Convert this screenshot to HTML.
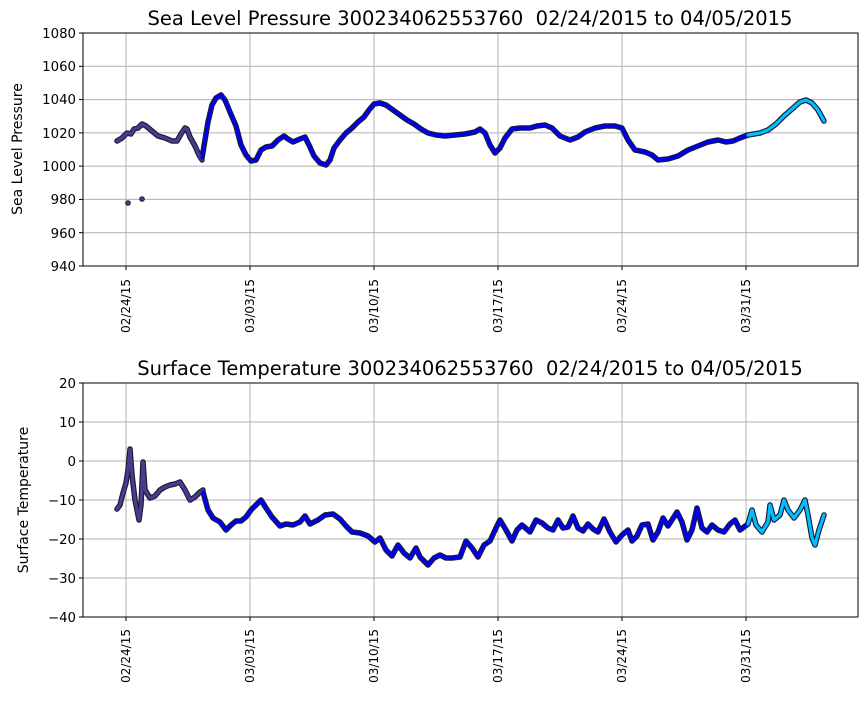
<!DOCTYPE html>
<html><head><meta charset="utf-8"><style>
body{margin:0;background:#fff}
svg text{font-family:"DejaVu Sans","Liberation Sans",sans-serif}
</style></head><body>
<svg width="867" height="700" xmlns="http://www.w3.org/2000/svg">
<rect width="867" height="700" fill="#fff"/>
<g stroke="#b0b0b0" stroke-width="1">
<line x1="83" x2="858" y1="66.3" y2="66.3"/><line x1="83" x2="858" y1="99.6" y2="99.6"/><line x1="83" x2="858" y1="132.9" y2="132.9"/><line x1="83" x2="858" y1="166.1" y2="166.1"/><line x1="83" x2="858" y1="199.4" y2="199.4"/><line x1="83" x2="858" y1="232.7" y2="232.7"/>
<line x1="126" x2="126" y1="33" y2="266"/><line x1="250" x2="250" y1="33" y2="266"/><line x1="374" x2="374" y1="33" y2="266"/><line x1="498" x2="498" y1="33" y2="266"/><line x1="622" x2="622" y1="33" y2="266"/><line x1="746" x2="746" y1="33" y2="266"/>
<line x1="83" x2="858" y1="422" y2="422"/><line x1="83" x2="858" y1="461" y2="461"/><line x1="83" x2="858" y1="500" y2="500"/><line x1="83" x2="858" y1="539" y2="539"/><line x1="83" x2="858" y1="578" y2="578"/>
<line x1="126" x2="126" y1="383" y2="617"/><line x1="250" x2="250" y1="383" y2="617"/><line x1="374" x2="374" y1="383" y2="617"/><line x1="498" x2="498" y1="383" y2="617"/><line x1="622" x2="622" y1="383" y2="617"/><line x1="746" x2="746" y1="383" y2="617"/>
</g>
<g fill="none" stroke-linejoin="round" stroke-linecap="round">
<g stroke="#1a1a3a" stroke-width="5.5">
<polyline points="117,141 122,138 127,133 131,134 134,129 138,128 142,124 146,126 152,131 158,136 165,138 172,141 177,141 181,134 185,128 187,129 190,137 195,146 199,155 202,160"/>
<polyline points="202,158 205,140 208,122 212,105 216,98 221,95 225,100 230,112 236,126 241,145 246,155 251,161 256,160 261,150 266,147 272,146 278,140 284,136 288,139 293,142 300,139 305,137 309,145 314,156 320,163 326,165 330,160 334,148 340,140 346,133 352,128 358,122 364,117 369,110 374,104 380,103 386,105 393,110 400,115 407,120 414,124 421,129 428,133 436,135 445,136 455,135 465,134 475,132 480,129 485,133 490,145 495,153 500,148 505,138 512,129 520,128 530,128 537,126 545,125 552,128 560,136 570,140 578,137 585,132 595,128 605,126 615,126 622,128 628,140 635,150 645,152 652,155 658,160 668,159 678,156 688,150 698,146 708,142 718,140 726,142 733,141 740,138 748,135"/>
<polyline points="748,135 760,133 768,130 776,124 784,116 792,109 800,102 806,100 812,103 818,110 824,121"/>
<polyline points="117,509 120,505 123,493 126,483 128,470 130,449 132,475 135,500 139,520 141,505 143,462 145,490 150,498 155,496 160,490 165,487 170,485 175,484 180,482 185,490 190,500 195,497 200,492 203,490"/>
<polyline points="203,492 208,510 213,518 220,522 226,530 231,525 236,521 241,521 246,517 251,510 256,505 261,500 266,508 272,517 280,526 286,524 293,525 300,522 305,516 310,524 318,520 325,515 333,514 340,519 346,526 352,532 360,533 368,536 375,542 380,538 386,550 392,556 398,545 404,553 410,558 416,548 420,557 428,565 434,558 440,555 446,558 452,558 460,557 466,541 472,548 478,557 484,545 490,541 496,528 500,520 506,530 512,541 517,530 522,525 530,532 536,520 542,523 548,528 553,530 558,520 563,528 568,527 573,516 578,528 583,531 588,524 593,529 598,532 604,519 610,532 616,542 622,535 628,530 632,541 637,536 642,525 648,524 653,540 658,532 663,518 668,526 672,520 677,512 682,522 687,540 692,530 697,508 702,528 707,532 712,525 718,530 724,532 730,524 735,520 740,530 748,524"/>
<polyline points="748,524 752,510 756,525 762,532 768,522 770,505 774,520 780,515 784,500 788,510 794,518 800,510 805,500 808,515 812,538 815,545 819,530 824,515"/>
</g>
<g stroke-width="3.2">
<polyline stroke="#483d8b" points="117,141 122,138 127,133 131,134 134,129 138,128 142,124 146,126 152,131 158,136 165,138 172,141 177,141 181,134 185,128 187,129 190,137 195,146 199,155 202,160"/>
<polyline stroke="#0000ee" points="202,158 205,140 208,122 212,105 216,98 221,95 225,100 230,112 236,126 241,145 246,155 251,161 256,160 261,150 266,147 272,146 278,140 284,136 288,139 293,142 300,139 305,137 309,145 314,156 320,163 326,165 330,160 334,148 340,140 346,133 352,128 358,122 364,117 369,110 374,104 380,103 386,105 393,110 400,115 407,120 414,124 421,129 428,133 436,135 445,136 455,135 465,134 475,132 480,129 485,133 490,145 495,153 500,148 505,138 512,129 520,128 530,128 537,126 545,125 552,128 560,136 570,140 578,137 585,132 595,128 605,126 615,126 622,128 628,140 635,150 645,152 652,155 658,160 668,159 678,156 688,150 698,146 708,142 718,140 726,142 733,141 740,138 748,135"/>
<polyline stroke="#00bfff" points="748,135 760,133 768,130 776,124 784,116 792,109 800,102 806,100 812,103 818,110 824,121"/>
<polyline stroke="#483d8b" points="117,509 120,505 123,493 126,483 128,470 130,449 132,475 135,500 139,520 141,505 143,462 145,490 150,498 155,496 160,490 165,487 170,485 175,484 180,482 185,490 190,500 195,497 200,492 203,490"/>
<polyline stroke="#0000ee" points="203,492 208,510 213,518 220,522 226,530 231,525 236,521 241,521 246,517 251,510 256,505 261,500 266,508 272,517 280,526 286,524 293,525 300,522 305,516 310,524 318,520 325,515 333,514 340,519 346,526 352,532 360,533 368,536 375,542 380,538 386,550 392,556 398,545 404,553 410,558 416,548 420,557 428,565 434,558 440,555 446,558 452,558 460,557 466,541 472,548 478,557 484,545 490,541 496,528 500,520 506,530 512,541 517,530 522,525 530,532 536,520 542,523 548,528 553,530 558,520 563,528 568,527 573,516 578,528 583,531 588,524 593,529 598,532 604,519 610,532 616,542 622,535 628,530 632,541 637,536 642,525 648,524 653,540 658,532 663,518 668,526 672,520 677,512 682,522 687,540 692,530 697,508 702,528 707,532 712,525 718,530 724,532 730,524 735,520 740,530 748,524"/>
<polyline stroke="#00bfff" points="748,524 752,510 756,525 762,532 768,522 770,505 774,520 780,515 784,500 788,510 794,518 800,510 805,500 808,515 812,538 815,545 819,530 824,515"/>
</g>
</g>
<circle cx="128" cy="203" r="2.3" fill="#483d8b" stroke="#1a1a3a"/><circle cx="142" cy="199" r="2.3" fill="#483d8b" stroke="#1a1a3a"/>
<g fill="none" stroke="#000" stroke-width="1"><rect x="83" y="33" width="775" height="233"/><rect x="83" y="383" width="775" height="234"/></g>
<g stroke="#000">
<line x1="79" x2="83" y1="33" y2="33"/><line x1="79" x2="83" y1="66.3" y2="66.3"/><line x1="79" x2="83" y1="99.6" y2="99.6"/><line x1="79" x2="83" y1="132.9" y2="132.9"/><line x1="79" x2="83" y1="166.1" y2="166.1"/><line x1="79" x2="83" y1="199.4" y2="199.4"/><line x1="79" x2="83" y1="232.7" y2="232.7"/><line x1="79" x2="83" y1="266" y2="266"/>
<line x1="79" x2="83" y1="383" y2="383"/><line x1="79" x2="83" y1="422" y2="422"/><line x1="79" x2="83" y1="461" y2="461"/><line x1="79" x2="83" y1="500" y2="500"/><line x1="79" x2="83" y1="539" y2="539"/><line x1="79" x2="83" y1="578" y2="578"/><line x1="79" x2="83" y1="617" y2="617"/>
<line x1="126" x2="126" y1="266" y2="270"/><line x1="250" x2="250" y1="266" y2="270"/><line x1="374" x2="374" y1="266" y2="270"/><line x1="498" x2="498" y1="266" y2="270"/><line x1="622" x2="622" y1="266" y2="270"/><line x1="746" x2="746" y1="266" y2="270"/>
<line x1="126" x2="126" y1="617" y2="621"/><line x1="250" x2="250" y1="617" y2="621"/><line x1="374" x2="374" y1="617" y2="621"/><line x1="498" x2="498" y1="617" y2="621"/><line x1="622" x2="622" y1="617" y2="621"/><line x1="746" x2="746" y1="617" y2="621"/>
</g>
<g font-size="13.3" text-anchor="end" fill="#000">
<text x="76" y="38">1080</text><text x="76" y="71">1060</text><text x="76" y="104">1040</text><text x="76" y="138">1020</text><text x="76" y="171">1000</text><text x="76" y="204">980</text><text x="76" y="238">960</text><text x="76" y="271">940</text>
<text x="76" y="388">20</text><text x="76" y="427">10</text><text x="76" y="466">0</text><text x="76" y="505">−10</text><text x="76" y="544">−20</text><text x="76" y="583">−30</text><text x="76" y="622">−40</text>
</g>
<g font-size="12" text-anchor="end" fill="#000">
<text transform="translate(130,279) rotate(-90)">02/24/15</text><text transform="translate(254,279) rotate(-90)">03/03/15</text><text transform="translate(378,279) rotate(-90)">03/10/15</text><text transform="translate(502,279) rotate(-90)">03/17/15</text><text transform="translate(626,279) rotate(-90)">03/24/15</text><text transform="translate(750,279) rotate(-90)">03/31/15</text>
<text transform="translate(130,629) rotate(-90)">02/24/15</text><text transform="translate(254,629) rotate(-90)">03/03/15</text><text transform="translate(378,629) rotate(-90)">03/10/15</text><text transform="translate(502,629) rotate(-90)">03/17/15</text><text transform="translate(626,629) rotate(-90)">03/24/15</text><text transform="translate(750,629) rotate(-90)">03/31/15</text>
</g>
<g font-size="14" text-anchor="middle">
<text transform="translate(22,149) rotate(-90)">Sea Level Pressure</text>
<text transform="translate(28,500) rotate(-90)">Surface Temperature</text>
</g>
<g font-size="19.5" text-anchor="middle">
<text x="470" y="25">Sea Level Pressure 300234062553760&#160; 02/24/2015 to 04/05/2015</text>
<text x="470" y="375">Surface Temperature 300234062553760&#160; 02/24/2015 to 04/05/2015</text>
</g>
</svg>
</body></html>
